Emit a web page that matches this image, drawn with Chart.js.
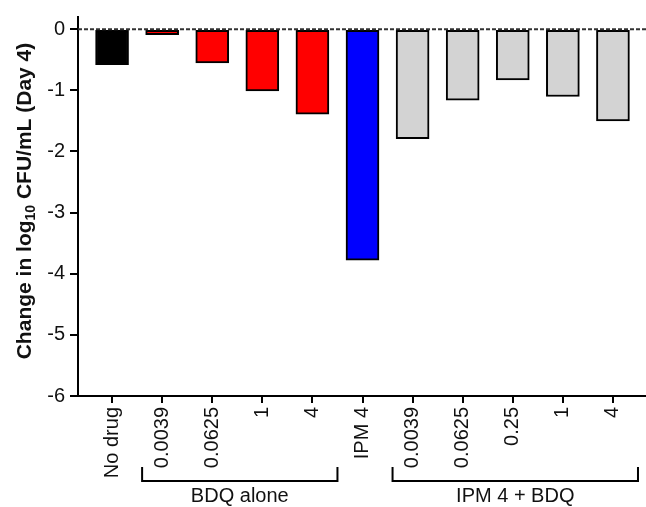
<!DOCTYPE html>
<html>
<head>
    <title>BDQ / IPM Day 4</title>
    <script src="https://cdn.jsdelivr.net/npm/chart.js@4.4.0/dist/chart.umd.min.js"></script>
    <style>
        html, body { margin: 0; padding: 0; background: #fff; }
        #chart { display: block; }
    </style>
</head>
<body>
    <canvas id="chart" width="646" height="507"></canvas>
    <script>
        // data
        const labels = ['No drug', '0.0039', '0.0625', '1', '4', 'IPM 4', '0.0039', '0.0625', '0.25', '1', '4'];
        const values = [-0.58, -0.09, -0.55, -1.01, -1.39, -3.78, -1.79, -1.16, -0.83, -1.10, -1.50];
        const colors = ['#000000', '#ff0000', '#ff0000', '#ff0000', '#ff0000', '#0000ff',
                        '#d3d3d3', '#d3d3d3', '#d3d3d3', '#d3d3d3', '#d3d3d3'];
        const yTicks = [0, -1, -2, -3, -4, -5, -6];
        const groups = [
            { label: 'BDQ alone', from: 1, to: 4 },
            { label: 'IPM 4 + BDQ', from: 6, to: 10 }
        ];

        const FONT = 'Arial, "Liberation Sans", sans-serif';
        const TEXT = '#111';

        // dashed zero line, y title with subscript, group brackets
        const extras = {
            id: 'extras',
            afterDatasetsDraw(chart) {
                const { ctx, chartArea, scales } = chart;
                const y0 = scales.y.getPixelForValue(0);
                ctx.save();
                ctx.strokeStyle = '#333';
                ctx.lineWidth = 2;
                ctx.setLineDash([4, 2]);
                ctx.beginPath();
                ctx.moveTo(chartArea.left, y0);
                ctx.lineTo(chartArea.right, y0);
                ctx.stroke();
                ctx.restore();
            },
            afterDraw(chart) {
                const { ctx, scales } = chart;
                ctx.save();

                // y axis title
                const p1 = 'Change in log', sub = '10', p2 = ' CFU/mL (Day 4)';
                ctx.translate(23, 201);
                ctx.rotate(-Math.PI / 2);
                ctx.fillStyle = TEXT;
                ctx.textBaseline = 'alphabetic';
                ctx.textAlign = 'left';
                ctx.font = 'bold 21px ' + FONT;
                const w1 = ctx.measureText(p1).width;
                const w2 = ctx.measureText(p2).width;
                ctx.font = 'bold 14px ' + FONT;
                const ws = ctx.measureText(sub).width;
                let x = -(w1 + ws + w2) / 2;
                ctx.font = 'bold 21px ' + FONT;
                ctx.fillText(p1, x, 8);
                x += w1;
                ctx.font = 'bold 14px ' + FONT;
                ctx.fillText(sub, x, 12);
                x += ws;
                ctx.font = 'bold 21px ' + FONT;
                ctx.fillText(p2, x, 8);
                ctx.setTransform(1, 0, 0, 1, 0, 0);

                // group brackets
                ctx.strokeStyle = '#000';
                ctx.lineWidth = 2;
                ctx.font = '20px ' + FONT;
                ctx.textAlign = 'center';
                ctx.textBaseline = 'middle';
                groups.forEach(g => {
                    const x1 = scales.x.getPixelForValue(g.from - 0.4);
                    const x2 = scales.x.getPixelForValue(g.to + 0.5);
                    ctx.beginPath();
                    ctx.moveTo(x1, 467);
                    ctx.lineTo(x1, 481);
                    ctx.lineTo(x2, 481);
                    ctx.lineTo(x2, 467);
                    ctx.stroke();
                    ctx.fillText(g.label, (x1 + x2) / 2, 496);
                });
                ctx.restore();
            }
        };

        new Chart(document.getElementById('chart'), {
            type: 'bar',
            data: {
                datasets: [{
                    data: values.map((v, i) => ({ x: i, y: v })),
                    backgroundColor: colors,
                    borderColor: '#000',
                    borderWidth: 2,
                    borderSkipped: false,
                    barThickness: 33
                }]
            },
            plugins: [extras],
            options: {
                responsive: false,
                animation: false,
                layout: { padding: { top: 15, right: 0, left: 0, bottom: 0 } },
                plugins: {
                    legend: { display: false },
                    tooltip: { enabled: false }
                },
                scales: {
                    x: {
                        type: 'linear',
                        min: -0.68,
                        max: 10.66,
                        offset: false,
                        afterBuildTicks: s => { s.ticks = labels.map((_, i) => ({ value: i })); },
                        afterFit: s => { s.height = 111; },
                        grid: {
                            offset: false,
                            drawOnChartArea: false,
                            tickLength: 7,
                            tickColor: '#000',
                            lineWidth: 2
                        },
                        border: { color: '#000', width: 2 },
                        ticks: {
                            autoSkip: false,
                            minRotation: 90,
                            maxRotation: 90,
                            padding: 4,
                            color: TEXT,
                            font: { family: FONT, size: 20 },
                            callback: v => labels[v]
                        }
                    },
                    y: {
                        min: -6,
                        max: 0.2,
                        afterBuildTicks: s => { s.ticks = yTicks.map(v => ({ value: v })); },
                        afterFit: s => { s.width = 78; },
                        grid: {
                            drawOnChartArea: false,
                            tickLength: 8,
                            tickColor: '#000',
                            lineWidth: 2
                        },
                        border: { color: '#000', width: 2 },
                        ticks: {
                            padding: 5,
                            color: TEXT,
                            font: { family: FONT, size: 20 }
                        }
                    }
                }
            }
        });
    </script>
</body>
</html>
